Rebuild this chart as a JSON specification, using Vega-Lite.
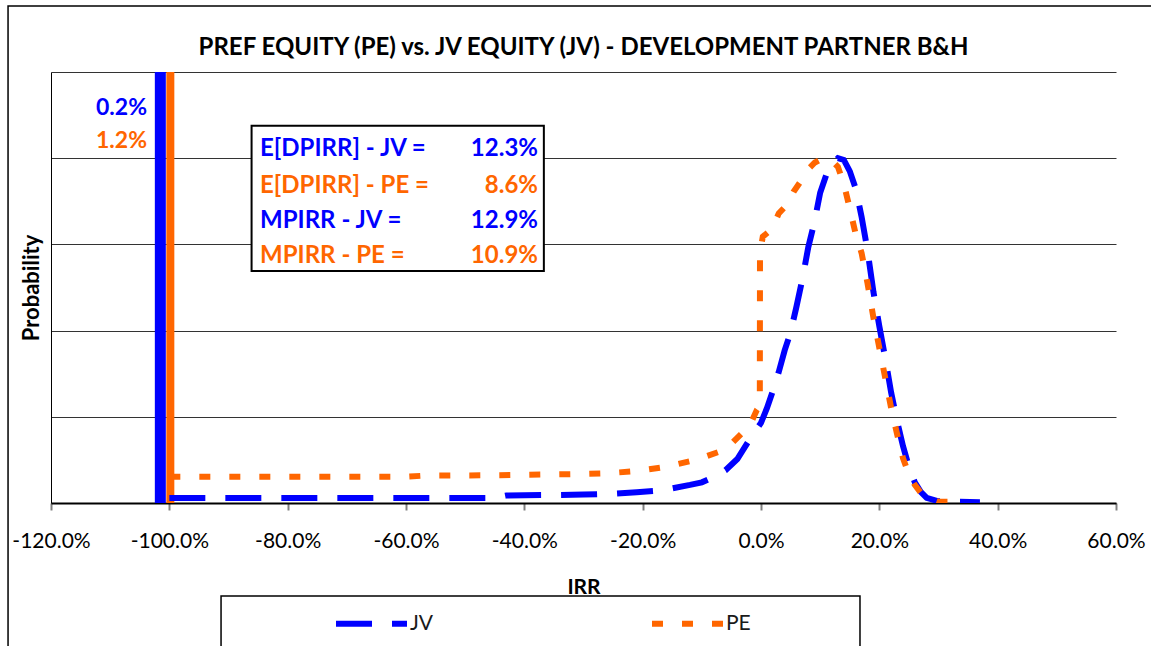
{
  "$schema": "https://vega.github.io/schema/vega-lite/v6.json",
  "width": 1065,
  "height": 431,
  "autosize": {"type": "none"},
  "padding": {"left": 51, "top": 72, "right": 35, "bottom": 143},
  "background": "white",
  "title": {
    "text": "PREF EQUITY (PE) vs. JV EQUITY (JV) - DEVELOPMENT PARTNER B&H",
    "font": "Lato", "fontSize": 24, "fontWeight": "bold", "color": "black",
    "anchor": "middle", "offset": 16, "dy": 71
  },
  "config": {
    "view": {"stroke": null},
    "font": "Lato",
    "text": {"font": "Lato"}
  },
  "datasets": {
    "curves": [
      {"series": "JV", "irr": -1.0, "prob": 0.00058},
      {"series": "JV", "irr": -0.9, "prob": 0.00058},
      {"series": "JV", "irr": -0.8, "prob": 0.00058},
      {"series": "JV", "irr": -0.7, "prob": 0.00058},
      {"series": "JV", "irr": -0.6, "prob": 0.00058},
      {"series": "JV", "irr": -0.5, "prob": 0.00058},
      {"series": "JV", "irr": -0.45, "prob": 0.0006},
      {"series": "JV", "irr": -0.43, "prob": 0.00088},
      {"series": "JV", "irr": -0.35, "prob": 0.00093},
      {"series": "JV", "irr": -0.3, "prob": 0.00098},
      {"series": "JV", "irr": -0.25, "prob": 0.00108},
      {"series": "JV", "irr": -0.21, "prob": 0.00125},
      {"series": "JV", "irr": -0.18, "prob": 0.0014},
      {"series": "JV", "irr": -0.15, "prob": 0.0017},
      {"series": "JV", "irr": -0.12, "prob": 0.0021},
      {"series": "JV", "irr": -0.1, "prob": 0.0024},
      {"series": "JV", "irr": -0.08, "prob": 0.003},
      {"series": "JV", "irr": -0.06, "prob": 0.0038},
      {"series": "JV", "irr": -0.04, "prob": 0.0051},
      {"series": "JV", "irr": -0.02, "prob": 0.0073},
      {"series": "JV", "irr": 0.0, "prob": 0.0093},
      {"series": "JV", "irr": 0.01, "prob": 0.011},
      {"series": "JV", "irr": 0.02, "prob": 0.013},
      {"series": "JV", "irr": 0.03, "prob": 0.0152},
      {"series": "JV", "irr": 0.04, "prob": 0.0177},
      {"series": "JV", "irr": 0.05, "prob": 0.0198},
      {"series": "JV", "irr": 0.06, "prob": 0.0228},
      {"series": "JV", "irr": 0.07, "prob": 0.026},
      {"series": "JV", "irr": 0.08, "prob": 0.0297},
      {"series": "JV", "irr": 0.09, "prob": 0.0325},
      {"series": "JV", "irr": 0.1, "prob": 0.036},
      {"series": "JV", "irr": 0.11, "prob": 0.038},
      {"series": "JV", "irr": 0.12, "prob": 0.0393},
      {"series": "JV", "irr": 0.13, "prob": 0.04},
      {"series": "JV", "irr": 0.14, "prob": 0.0398},
      {"series": "JV", "irr": 0.15, "prob": 0.0385},
      {"series": "JV", "irr": 0.16, "prob": 0.0365},
      {"series": "JV", "irr": 0.17, "prob": 0.0332},
      {"series": "JV", "irr": 0.18, "prob": 0.0293},
      {"series": "JV", "irr": 0.19, "prob": 0.0245},
      {"series": "JV", "irr": 0.2, "prob": 0.0205},
      {"series": "JV", "irr": 0.21, "prob": 0.0168},
      {"series": "JV", "irr": 0.22, "prob": 0.0128},
      {"series": "JV", "irr": 0.23, "prob": 0.0095},
      {"series": "JV", "irr": 0.24, "prob": 0.0066},
      {"series": "JV", "irr": 0.25, "prob": 0.0042},
      {"series": "JV", "irr": 0.26, "prob": 0.0024},
      {"series": "JV", "irr": 0.27, "prob": 0.0013},
      {"series": "JV", "irr": 0.28, "prob": 0.0006},
      {"series": "JV", "irr": 0.3, "prob": 0.0002},
      {"series": "JV", "irr": 0.33, "prob": 0.00015},
      {"series": "JV", "irr": 0.37, "prob": 0.0001},
      {"series": "PE", "irr": -1.0, "prob": 0.00305},
      {"series": "PE", "irr": -0.9, "prob": 0.00305},
      {"series": "PE", "irr": -0.8, "prob": 0.00305},
      {"series": "PE", "irr": -0.7, "prob": 0.00305},
      {"series": "PE", "irr": -0.6, "prob": 0.00305},
      {"series": "PE", "irr": -0.57, "prob": 0.00317},
      {"series": "PE", "irr": -0.45, "prob": 0.00322},
      {"series": "PE", "irr": -0.31, "prob": 0.00336},
      {"series": "PE", "irr": -0.26, "prob": 0.00345},
      {"series": "PE", "irr": -0.21, "prob": 0.0037},
      {"series": "PE", "irr": -0.16, "prob": 0.0042},
      {"series": "PE", "irr": -0.11, "prob": 0.005},
      {"series": "PE", "irr": -0.06, "prob": 0.0062},
      {"series": "PE", "irr": -0.035, "prob": 0.0079},
      {"series": "PE", "irr": -0.019, "prob": 0.009},
      {"series": "PE", "irr": -0.007, "prob": 0.0108},
      {"series": "PE", "irr": -0.002, "prob": 0.0113},
      {"series": "PE", "irr": -0.0017, "prob": 0.029},
      {"series": "PE", "irr": 0.003, "prob": 0.0309},
      {"series": "PE", "irr": 0.019, "prob": 0.0318},
      {"series": "PE", "irr": 0.03, "prob": 0.0336},
      {"series": "PE", "irr": 0.044, "prob": 0.0346},
      {"series": "PE", "irr": 0.055, "prob": 0.0361},
      {"series": "PE", "irr": 0.066, "prob": 0.0372},
      {"series": "PE", "irr": 0.078, "prob": 0.0386},
      {"series": "PE", "irr": 0.091, "prob": 0.0395},
      {"series": "PE", "irr": 0.105, "prob": 0.04},
      {"series": "PE", "irr": 0.12, "prob": 0.0397},
      {"series": "PE", "irr": 0.13, "prob": 0.039},
      {"series": "PE", "irr": 0.14, "prob": 0.037},
      {"series": "PE", "irr": 0.15, "prob": 0.0342},
      {"series": "PE", "irr": 0.16, "prob": 0.0312},
      {"series": "PE", "irr": 0.17, "prob": 0.029},
      {"series": "PE", "irr": 0.18, "prob": 0.0255},
      {"series": "PE", "irr": 0.19, "prob": 0.0215},
      {"series": "PE", "irr": 0.2, "prob": 0.018},
      {"series": "PE", "irr": 0.21, "prob": 0.0145},
      {"series": "PE", "irr": 0.22, "prob": 0.011},
      {"series": "PE", "irr": 0.23, "prob": 0.008},
      {"series": "PE", "irr": 0.24, "prob": 0.0052},
      {"series": "PE", "irr": 0.25, "prob": 0.0033},
      {"series": "PE", "irr": 0.26, "prob": 0.0021},
      {"series": "PE", "irr": 0.27, "prob": 0.0012},
      {"series": "PE", "irr": 0.28, "prob": 0.0006},
      {"series": "PE", "irr": 0.3, "prob": 0.00015},
      {"series": "PE", "irr": 0.34, "prob": 0.00015}
    ],
    "masses": [
      {"series": "JV", "irr": -1.0, "prob": 0.002},
      {"series": "PE", "irr": -1.0, "prob": 0.012}
    ],
    "stats": [
      {"row": 1, "series": "JV", "stat": "E[DPIRR] - JV =", "value": 0.123},
      {"row": 2, "series": "PE", "stat": "E[DPIRR] - PE =", "value": 0.086},
      {"row": 3, "series": "JV", "stat": "MPIRR - JV =", "value": 0.129},
      {"row": 4, "series": "PE", "stat": "MPIRR - PE =", "value": 0.109}
    ]
  },
  "encoding": {
    "x": {
      "type": "quantitative",
      "scale": {"domain": [-1.2, 0.6], "nice": false, "zero": false},
      "axis": {
        "title": "IRR",
        "values": [-1.2, -1.0, -0.8, -0.6, -0.4, -0.2, 0, 0.2, 0.4, 0.6],
        "labelExpr": "replace(format(datum.value, '.1%'), '\u2212', '-')",
        "grid": false,
        "domainColor": "black", "domainWidth": 2,
        "tickColor": "#808080", "tickWidth": 2, "tickSize": 7,
        "labelFont": "Lato", "labelFontSize": 21, "labelColor": "black", "labelPadding": 20,
        "labelFlush": false, "labelOverlap": false,
        "titleFont": "Lato", "titleFontSize": 21, "titleFontWeight": "bold", "titleColor": "black",
        "titlePadding": 25
      }
    },
    "y": {
      "type": "quantitative",
      "scale": {"domain": [0, 0.05], "nice": false, "zero": true},
      "axis": {
        "title": "Probability",
        "values": [0, 0.01, 0.02, 0.03, 0.04, 0.05],
        "labels": false, "ticks": false,
        "grid": true, "gridColor": "#333333", "gridWidth": 1,
        "domainColor": "black", "domainWidth": 1,
        "titleFont": "Lato", "titleFontSize": 22, "titleFontWeight": "bold", "titleColor": "black",
        "titlePadding": 8
      }
    }
  },
  "layer": [
    {
      "data": {"values": [{}]},
      "mark": {"type": "rect", "fillOpacity": 0, "stroke": "black", "strokeWidth": 1.5, "clip": false},
      "encoding": {
        "x": {"datum": -1.2726}, "x2": {"datum": 0.75},
        "y": {"datum": 0.05766}, "y2": {"datum": -0.03}
      }
    },
    {
      "data": {"values": [{}]},
      "mark": {"type": "rect", "fill": "white", "stroke": "black", "strokeWidth": 1.5, "clip": false},
      "encoding": {
        "x": {"datum": -0.9126}, "x2": {"datum": 0.1673},
        "y": {"datum": -0.01079}, "y2": {"datum": -0.03}
      }
    },
    {
      "data": {"name": "masses"},
      "transform": [{"filter": "datum.series == 'JV'"}],
      "mark": {"type": "rule", "strokeWidth": 11, "xOffset": -9, "clip": true},
      "encoding": {
        "x": {"field": "irr"},
        "y": {"datum": 0}, "y2": {"datum": 0.05},
        "color": {"field": "series", "type": "nominal"}
      }
    },
    {
      "data": {"name": "masses"},
      "transform": [{"filter": "datum.series == 'PE'"}],
      "mark": {"type": "rule", "strokeWidth": 8, "xOffset": 1, "clip": true},
      "encoding": {
        "x": {"field": "irr"},
        "y": {"datum": 0}, "y2": {"datum": 0.05},
        "color": {"field": "series", "type": "nominal"}
      }
    },
    {
      "data": {"name": "curves"},
      "mark": {"type": "line", "strokeWidth": 6, "strokeCap": "butt", "clip": true},
      "encoding": {
        "x": {"field": "irr"},
        "y": {"field": "prob"},
        "color": {
          "field": "series", "type": "nominal",
          "scale": {"domain": ["JV", "PE"], "range": ["#0000FF", "#FF6600"]},
          "legend": {
            "title": null, "orient": "none", "legendX": 282, "legendY": 513,
            "direction": "horizontal", "symbolType": "stroke", "symbolSize": 5041,
            "symbolStrokeWidth": 6, "labelFont": "Lato", "labelFontSize": 21,
            "labelColor": "#1a1a1a", "labelOffset": 0, "columnPadding": 206, "padding": 0
          }
        },
        "strokeDash": {
          "field": "series", "type": "nominal",
          "scale": {"domain": ["JV", "PE"], "range": [[36, 20], [11, 19]]}
        }
      }
    },
    {
      "data": {"name": "masses"},
      "transform": [{"filter": "datum.series == 'JV'"}],
      "mark": {"type": "text", "align": "right", "baseline": "middle", "fontSize": 23, "fontWeight": "bold"},
      "encoding": {
        "x": {"datum": -1.0377}, "y": {"datum": 0.04588},
        "text": {"field": "prob", "format": ".1%"},
        "color": {"field": "series", "type": "nominal"}
      }
    },
    {
      "data": {"name": "masses"},
      "transform": [{"filter": "datum.series == 'PE'"}],
      "mark": {"type": "text", "align": "right", "baseline": "middle", "fontSize": 23, "fontWeight": "bold"},
      "encoding": {
        "x": {"datum": -1.0377}, "y": {"datum": 0.042},
        "text": {"field": "prob", "format": ".1%"},
        "color": {"field": "series", "type": "nominal"}
      }
    },
    {
      "data": {"values": [{}]},
      "mark": {"type": "rect", "fill": "white", "stroke": "black", "strokeWidth": 2},
      "encoding": {
        "x": {"datum": -0.861}, "x2": {"datum": -0.367},
        "y": {"datum": 0.04377}, "y2": {"datum": 0.0269}
      }
    },
    {
      "data": {"name": "stats"},
      "transform": [{"filter": "datum.row == 1"}],
      "encoding": {"y": {"datum": 0.04103}, "color": {"field": "series", "type": "nominal"}},
      "layer": [
        {"mark": {"type": "text", "align": "left", "baseline": "middle", "fontSize": 24, "fontWeight": "bold"},
         "encoding": {"x": {"datum": -0.8467}, "text": {"field": "stat"}}},
        {"mark": {"type": "text", "align": "right", "baseline": "middle", "fontSize": 24, "fontWeight": "bold"},
         "encoding": {"x": {"datum": -0.3769}, "text": {"field": "value", "format": ".1%"}}}
      ]
    },
    {
      "data": {"name": "stats"},
      "transform": [{"filter": "datum.row == 2"}],
      "encoding": {"y": {"datum": 0.03677}, "color": {"field": "series", "type": "nominal"}},
      "layer": [
        {"mark": {"type": "text", "align": "left", "baseline": "middle", "fontSize": 24, "fontWeight": "bold"},
         "encoding": {"x": {"datum": -0.8467}, "text": {"field": "stat"}}},
        {"mark": {"type": "text", "align": "right", "baseline": "middle", "fontSize": 24, "fontWeight": "bold"},
         "encoding": {"x": {"datum": -0.3769}, "text": {"field": "value", "format": ".1%"}}}
      ]
    },
    {
      "data": {"name": "stats"},
      "transform": [{"filter": "datum.row == 3"}],
      "encoding": {"y": {"datum": 0.03271}, "color": {"field": "series", "type": "nominal"}},
      "layer": [
        {"mark": {"type": "text", "align": "left", "baseline": "middle", "fontSize": 24, "fontWeight": "bold"},
         "encoding": {"x": {"datum": -0.8467}, "text": {"field": "stat"}}},
        {"mark": {"type": "text", "align": "right", "baseline": "middle", "fontSize": 24, "fontWeight": "bold"},
         "encoding": {"x": {"datum": -0.3769}, "text": {"field": "value", "format": ".1%"}}}
      ]
    },
    {
      "data": {"name": "stats"},
      "transform": [{"filter": "datum.row == 4"}],
      "encoding": {"y": {"datum": 0.02865}, "color": {"field": "series", "type": "nominal"}},
      "layer": [
        {"mark": {"type": "text", "align": "left", "baseline": "middle", "fontSize": 24, "fontWeight": "bold"},
         "encoding": {"x": {"datum": -0.8467}, "text": {"field": "stat"}}},
        {"mark": {"type": "text", "align": "right", "baseline": "middle", "fontSize": 24, "fontWeight": "bold"},
         "encoding": {"x": {"datum": -0.3769}, "text": {"field": "value", "format": ".1%"}}}
      ]
    }
  ]
}
